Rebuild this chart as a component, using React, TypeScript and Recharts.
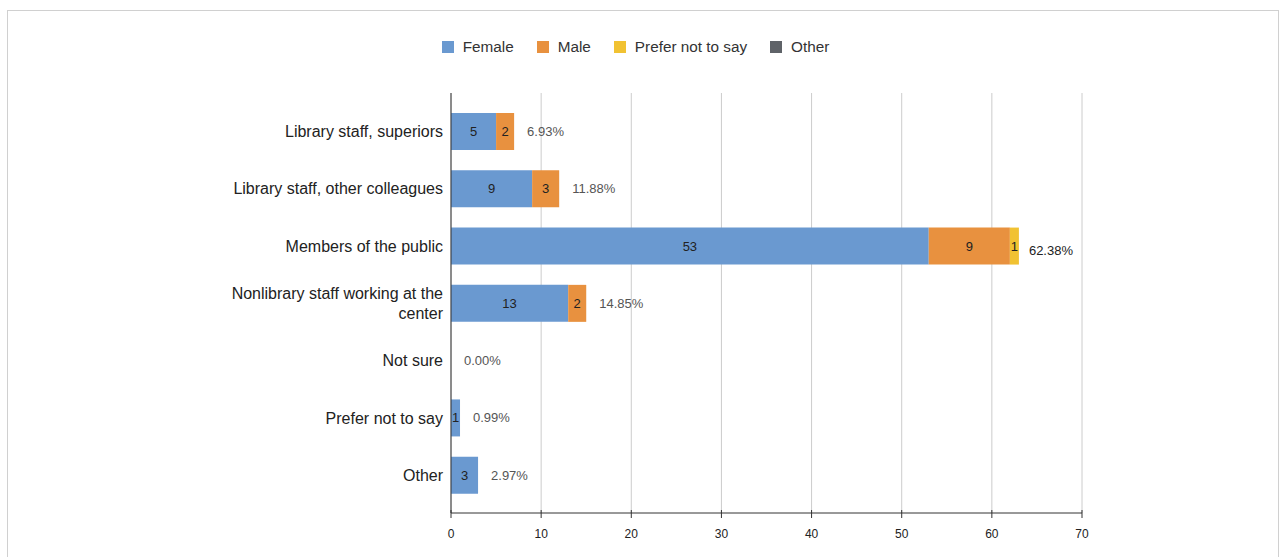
import React from 'react';
import { BarChart, Bar, XAxis, YAxis, CartesianGrid, Legend, LabelList } from 'recharts';

const categories = [
  'Library staff, superiors',
  'Library staff, other colleagues',
  'Members of the public',
  'Nonlibrary staff working at the center',
  'Not sure',
  'Prefer not to say',
  'Other',
];
const female = [5, 9, 53, 13, 0, 1, 3];
const male = [2, 3, 9, 2, 0, 0, 0];
const preferNot = [0, 0, 1, 0, 0, 0, 0];
const other = [0, 0, 0, 0, 0, 0, 0];
const percentLabels = ['6.93%', '11.88%', '62.38%', '14.85%', '0.00%', '0.99%', '2.97%'];
const xTicks = [0, 10, 20, 30, 40, 50, 60, 70];
const seriesKeys = ['female', 'male', 'prefer', 'other'];
const seriesNames = ['Female', 'Male', 'Prefer not to say', 'Other'];
const seriesColors = ['#6A99D0', '#E8913F', '#F1C232', '#5F6368'];

const data = categories.map((c, i) => ({
  category: c,
  female: female[i],
  male: male[i],
  prefer: preferNot[i],
  other: other[i],
  pct: percentLabels[i],
}));

const FONT = '"Liberation Sans", Arial, sans-serif';

let ctx: any = null;
const measure = (s: string, font: string) => {
  if (!ctx) ctx = document.createElement('canvas').getContext('2d');
  ctx.font = font;
  return ctx.measureText(s).width;
};
const wrap = (s: string, maxW: number, font: string) => {
  const words = s.split(' ');
  const lines: string[] = [];
  let cur = '';
  for (const w of words) {
    const t = cur ? cur + ' ' + w : w;
    if (cur && measure(t, font) > maxW) {
      lines.push(cur);
      cur = w;
    } else cur = t;
  }
  if (cur) lines.push(cur);
  return lines;
};

const InsideLabel = (props: any) => {
  const { x, y, width, height, value } = props;
  if (!value) return null;
  return (
    <text x={x + width / 2} y={y + height / 2} textAnchor="middle" dominantBaseline="central"
      fontSize={13} fill="#222" fontFamily={FONT}>{value}</text>
  );
};

const PctLabel = (props: any) => {
  const { x, y, width, height, value } = props;
  const big = value === '62.38%';
  return (
    <text x={x + width + (big ? 10 : 13)} y={y + height / 2 + (big ? 4 : 0)} textAnchor="start" dominantBaseline="central"
      fontSize={13} fill={big ? '#222' : '#555'} fontFamily={FONT}>{value}</text>
  );
};

const LH = 19.5;
const CategoryTick = (props: any) => {
  const { x, y, payload } = props;
  const lines = wrap(String(payload.value), 228, `16px ${FONT}`);
  const y0 = y - ((lines.length - 1) * LH) / 2;
  return (
    <text textAnchor="end" fontSize={16} fill="#222" fontFamily={FONT}>
      {lines.map((l, i) => (
        <tspan key={i} x={x} y={y0 + i * LH} dominantBaseline="central">{l}</tspan>
      ))}
    </text>
  );
};

const T = 16;
const XTick = (props: any) => {
  const { x, y, payload } = props;
  return (
    <g>
      <line x1={x} x2={x} y1={y - T - 3} y2={y - T + 5} stroke="#333" strokeWidth={1} />
      <text x={x} y={y} dy="0.71em" textAnchor="middle" fontSize={12} fill="#222" fontFamily={FONT}>{payload.value}</text>
    </g>
  );
};

const LegendContent = () => (
  <div style={{ display: 'flex', justifyContent: 'center', alignItems: 'center', fontFamily: FONT, fontSize: 15.3, color: '#333', height: 18 }}>
    {seriesNames.map((n, i) => (
      <div key={n} style={{ display: 'flex', alignItems: 'center', marginRight: i < seriesNames.length - 1 ? 23 : 0 }}>
        <span style={{ display: 'inline-block', width: 12, height: 12, background: seriesColors[i], marginRight: 9 }} />
        <span>{n}</span>
      </div>
    ))}
  </div>
);

export default function App() {
  return (
    <div style={{ position: 'fixed', top: 10, left: 7, width: 1272, height: 560, borderTop: '1px solid #d0d0d0', borderLeft: '1px solid #d0d0d0', borderRight: '1px solid #d0d0d0', boxSizing: 'border-box', background: '#fff' }}>
      <BarChart width={1270} height={546} data={data} layout="vertical" barSize={37}
        margin={{ top: 82, right: 196, bottom: 14, left: 0 }}>
        <CartesianGrid horizontal={false} stroke="#cccccc" />
        <XAxis type="number" domain={[0, 70]} ticks={xTicks} interval={0} height={30}
          axisLine={{ stroke: '#333' }} tickLine={false} tickSize={0} tickMargin={T} tick={<XTick />} />
        <YAxis type="category" dataKey="category" width={443} padding={{ top: 10, bottom: 9 }}
          axisLine={{ stroke: '#333' }} tickLine={false} tick={<CategoryTick />} interval={0} />
        <Legend layout="horizontal" verticalAlign="middle" align="center" content={<LegendContent />}
          wrapperStyle={{ top: 27, left: 2, width: 1251, height: 18 }} />
        {seriesKeys.map((k, i) => (
          <Bar key={k} dataKey={k} name={seriesNames[i]} stackId="a" fill={seriesColors[i]} isAnimationActive={false}
            minPointSize={k === 'other' ? 0.01 : 0}>
            <LabelList dataKey={k} content={<InsideLabel />} />
            {k === 'other' ? <LabelList dataKey="pct" content={<PctLabel />} /> : null}
          </Bar>
        ))}
      </BarChart>
    </div>
  );
}
